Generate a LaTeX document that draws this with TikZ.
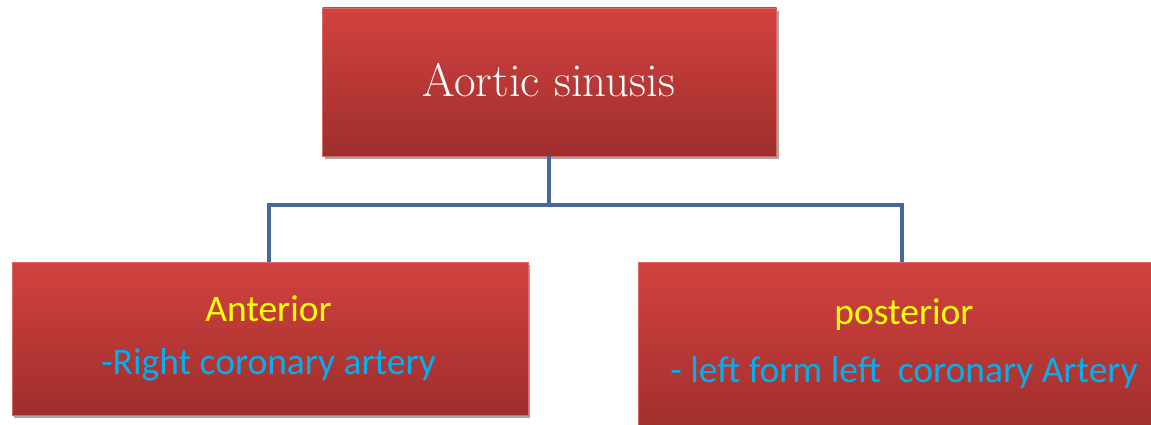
\documentclass[tikz,border=0pt]{standalone}
\usepackage{fontspec}
\setmainfont{Latin Modern Roman}
\newfontfamily\calib{Carlito}
\usetikzlibrary{shadows,calc}
\definecolor{boxtop}{HTML}{D2423F}
\definecolor{boxbot}{HTML}{9E2E2C}
\definecolor{conn}{HTML}{43699B}
\definecolor{ylw}{HTML}{FFFF00}
\definecolor{cyn}{HTML}{00B0F0}
\tikzset{
  redbox/.style={rectangle, inner sep=0pt, top color=boxtop, bottom color=boxbot,
    draw=boxtop!80!white, line width=0.6pt,
    drop shadow={shadow xshift=2pt, shadow yshift=-3pt, opacity=0.35, fill=black}},
  connector/.style={draw=conn, line width=4.5pt, line join=miter},
  label/.style={font=\calib\fontsize{37.5}{44}\selectfont},
}
\begin{document}
\begin{tikzpicture}[x=1pt,y=-1pt]
\useasboundingbox (0,0) rectangle (1151,425);
\clip (0,0) rectangle (1151,425);
\node[redbox, minimum width=454pt, minimum height=148pt] (top) at (549.5,82) {};
\node[font=\fontsize{47}{54}\selectfont, text=white] (toptext) at (549,80) {Aortic sinusis};
\node[redbox, minimum width=516pt, minimum height=153pt] (left) at (270,338.5) {};
\node[redbox, minimum width=520pt, minimum height=175pt] (right) at (898,349.5) {};
\node[label, text=ylw] (lt1) at (268.5,309) {Anterior};
\node[label, text=cyn] (lt2) at (268.5,365) {-Right coronary artery};
\node[label, text=ylw] (rt1) at (904,315) {posterior};
\node[label, text=cyn] (rt2) at (904,372) {- left form left\ \ coronary Artery};
\coordinate (lx) at (269,205);
\coordinate (rx) at (902,205);
\coordinate (mx) at (549,205);
\draw[connector] (top.south -| mx) -- (mx);
\draw[connector] (lx |- left.north) -- (lx) -- (rx) -- (rx |- right.north);
\end{tikzpicture}
\end{document}
